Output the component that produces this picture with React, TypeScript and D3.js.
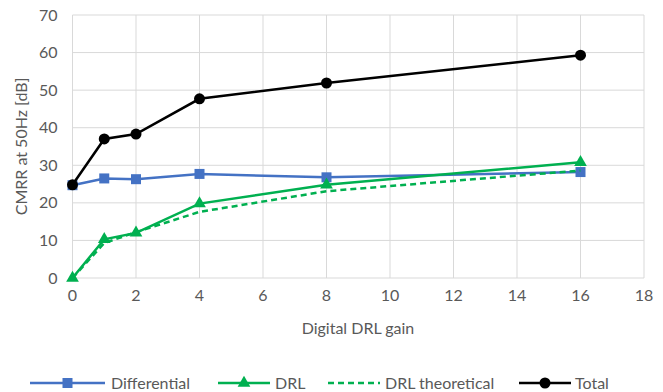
import React from "react";
import * as d3 from "d3";

const gains = [0, 1, 2, 4, 8, 16];
const differential = [24.7, 26.5, 26.3, 27.7, 26.8, 28.2];
const drl = [0, 10.3, 12.0, 19.8, 24.8, 30.8];
const drlTheoretical = [0, 9.3, 12.2, 17.6, 23.1, 28.6];
const total = [24.8, 37.0, 38.3, 47.7, 51.9, 59.3];
const xTicks = [0, 2, 4, 6, 8, 10, 12, 14, 16, 18];
const yTicks = [0, 10, 20, 30, 40, 50, 60, 70];

const W = 663, H = 392;
const left = 72.5, right = 644, top = 15, bottom = 278;
const FONT = "Lato, 'Open Sans', sans-serif";
const TXT = "#595959";
const FS = 16;

export default function App() {
  const x = d3.scaleLinear().domain([0, 18]).range([left, right]);
  const y = d3.scaleLinear().domain([0, 70]).range([bottom, top]);
  const line = d3.line<number>().x((_, i) => x(gains[i])).y((d) => y(d));

  const tri = d3.symbol(d3.symbolTriangle, 70)()!;

  const series = [
    { key: "diff", data: differential, color: "#4472C4", dash: undefined as string | undefined, marker: "square" },
    { key: "drl", data: drl, color: "#00B050", dash: undefined, marker: "triangle" },
    { key: "drlt", data: drlTheoretical, color: "#00B050", dash: "6,4", marker: "none" },
    { key: "total", data: total, color: "#000000", dash: undefined, marker: "circle" },
  ];

  const marker = (m: string, color: string, cx: number, cy: number, k: string) => {
    if (m === "square") return <rect key={k} x={cx - 5} y={cy - 5} width={10} height={10} fill={color} />;
    if (m === "circle") return <circle key={k} cx={cx} cy={cy} r={5.5} fill={color} />;
    if (m === "triangle") return <path key={k} d={tri} transform={`translate(${cx},${cy})`} fill={color} />;
    return null;
  };

  const legend = [
    { label: "Differential", color: "#4472C4", dash: undefined as string | undefined, marker: "square", x0: 30, x1: 105, tx: 111 },
    { label: "DRL", color: "#00B050", dash: undefined, marker: "triangle", x0: 218, x1: 270, tx: 275 },
    { label: "DRL theoretical", color: "#00B050", dash: "6,4", marker: "none", x0: 328, x1: 380, tx: 385 },
    { label: "Total", color: "#000000", dash: undefined, marker: "circle", x0: 519, x1: 571, tx: 575 },
  ];

  return (
    <svg width={W} height={H} style={{ position: "absolute", left: 0, top: 0, background: "#fff" }}>
      <rect x={0} y={0} width={W} height={H} fill="#fff" />
      {yTicks.map((t) => (
        <line key={"gy" + t} x1={left} x2={right} y1={y(t)} y2={y(t)} stroke="#d9d9d9" strokeWidth={1} />
      ))}
      {xTicks.map((t) => (
        <line key={"gx" + t} x1={x(t)} x2={x(t)} y1={top} y2={bottom} stroke="#d9d9d9" strokeWidth={1} />
      ))}
      {yTicks.map((t) => (
        <text key={"ty" + t} x={left - 15} y={y(t)} dy="0.35em" textAnchor="end" fontSize={FS} fill={TXT} fontFamily={FONT}>{t}</text>
      ))}
      {xTicks.map((t) => (
        <text key={"tx" + t} x={x(t)} y={bottom + 23} textAnchor="middle" fontSize={FS} fill={TXT} fontFamily={FONT}>{t}</text>
      ))}
      <text x={358} y={334} textAnchor="middle" fontSize={FS} fill={TXT} fontFamily={FONT}>Digital DRL gain</text>
      <text transform={`translate(27,${(top + bottom) / 2}) rotate(-90)`} textAnchor="middle" fontSize={FS} fill={TXT} fontFamily={FONT}>CMRR at 50Hz [dB]</text>

      {series.map((s) => (
        <g key={s.key}>
          <path d={line(s.data)!} fill="none" stroke={s.color} strokeWidth={2.5} strokeDasharray={s.dash} />
          {s.data.map((v, i) => marker(s.marker, s.color, x(gains[i]), y(v), s.key + i))}
        </g>
      ))}

      {legend.map((l) => (
        <g key={l.label}>
          <line x1={l.x0} x2={l.x1} y1={383} y2={383} stroke={l.color} strokeWidth={2.5} strokeDasharray={l.dash} />
          {marker(l.marker, l.color, (l.x0 + l.x1) / 2, 383, l.label + "m")}
          <text x={l.tx} y={383} dy="0.35em" fontSize={FS} fill={TXT} fontFamily={FONT}>{l.label}</text>
        </g>
      ))}
    </svg>
  );
}
